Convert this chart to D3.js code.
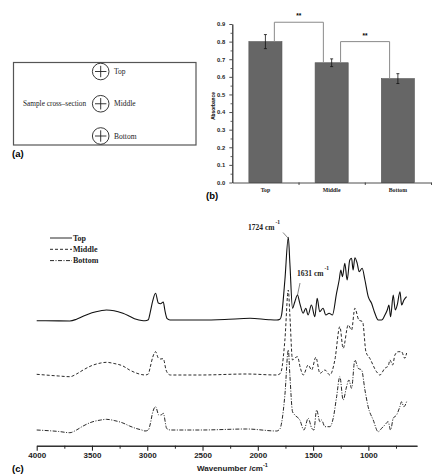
<!DOCTYPE html>
<html>
<head>
<meta charset="utf-8">
<script src="https://cdn.jsdelivr.net/npm/d3@7"></script>
<style>
    body { margin: 0; background: #fff; }
    svg { display: block; }
    .serif { font-family: "Liberation Serif", "DejaVu Serif", serif; }
    .sans { font-family: "Liberation Sans", Arial, sans-serif; }
    .axis path, .axis line { stroke: #222; }
</style>
</head>
<body>
<div id="figure"></div>
<script>

// ---- panel (b) data ----
let categories = ["Top", "Middle", "Bottom"];
let absorbanceMean = [0.80, 0.68, 0.59];
let absorbanceErr = [0.04, 0.022, 0.028];
// significance brackets: [left category, right category, bracket height, label]
let brackets = [["Top", "Middle", 0.91, "**"], ["Middle", "Bottom", 0.80, "**"]];
let barTicks = [0, 0.1, 0.2, 0.3, 0.4, 0.5, 0.6, 0.7, 0.8, 0.9];

// ---- panel (c) data: wavenumber (cm-1) and absorbance (a.u., above each baseline) ----
let topWn = [4000, 3800, 3700, 3640, 3580, 3500, 3420, 3370, 3300, 3220, 3160, 3100, 3050, 3020, 2990, 2975, 2950, 2925, 2900, 2880, 2855, 2840, 2820, 2795, 2520, 2300, 2070, 1900, 1830, 1800, 1785, 1755, 1724, 1710, 1686, 1665, 1641, 1620, 1590, 1566, 1545, 1515, 1484, 1463, 1440, 1410, 1385, 1355, 1325, 1288, 1264, 1249, 1234, 1213, 1192, 1168, 1152, 1138, 1122, 1101, 1083, 1056, 1031, 1001, 971, 941, 911, 880, 850, 829, 814, 799, 775, 757, 739, 714, 699, 678, 654];
let topAbs = [0, -0.002, -0.003, 0.015, 0.045, 0.08, 0.1, 0.107, 0.1, 0.074, 0.045, 0.014, 0.002, 0, 0.01, 0.074, 0.2, 0.274, 0.177, 0.17, 0.187, 0.1, 0.02, 0.007, 0.007, 0.012, 0.024, 0.01, 0.007, 0.015, 0.057, 0.407, 0.834, 0.577, 0.124, 0.19, 0.257, 0.174, 0.074, 0.124, 0.057, 0.157, 0.04, 0.224, 0.09, 0.124, 0.057, 0.074, 0.057, 0.274, 0.407, 0.507, 0.44, 0.574, 0.407, 0.607, 0.624, 0.507, 0.63, 0.574, 0.49, 0.524, 0.407, 0.24, 0.174, 0.074, 0.007, 0.007, 0.057, 0.107, 0.157, 0.04, 0.257, 0.107, 0.157, 0.29, 0.157, 0.207, 0.24];

let middleWn = [4000, 3800, 3700, 3640, 3580, 3500, 3420, 3370, 3300, 3220, 3160, 3100, 3050, 3020, 2990, 2975, 2950, 2925, 2900, 2880, 2855, 2830, 2810, 2790, 2520, 2100, 1830, 1800, 1785, 1755, 1724, 1710, 1686, 1665, 1641, 1615, 1589, 1544, 1513, 1475, 1438, 1393, 1348, 1303, 1258, 1228, 1182, 1152, 1122, 1086, 1052, 1022, 987, 926, 896, 851, 820, 805, 780, 760, 730, 700, 670, 654];
let middleAbs = [0.007, -0.01, -0.017, 0.01, 0.05, 0.095, 0.12, 0.127, 0.115, 0.09, 0.05, 0.02, 0.004, 0, 0.01, 0.07, 0.18, 0.233, 0.17, 0.16, 0.163, 0.05, 0.01, 0, 0, 0.01, 0, 0.012, 0.05, 0.35, 0.85, 0.6, 0.15, 0.17, 0.183, 0.07, 0, 0.1, 0.05, 0.177, 0.017, 0.05, 0, 0.15, 0.483, 0.267, 0.5, 0.45, 0.667, 0.55, 0.533, 0.233, 0.167, 0.033, 0, 0.067, 0.09, 0.15, 0.1, 0.2, 0.233, 0.233, 0.167, 0.22];

let bottomWn = [4000, 3800, 3700, 3640, 3580, 3500, 3420, 3370, 3300, 3220, 3160, 3100, 3050, 3020, 2990, 2975, 2950, 2925, 2895, 2875, 2855, 2825, 2810, 2790, 2520, 2100, 1830, 1800, 1785, 1755, 1724, 1710, 1686, 1665, 1620, 1583, 1544, 1513, 1493, 1468, 1438, 1423, 1393, 1348, 1318, 1287, 1258, 1228, 1197, 1176, 1152, 1122, 1092, 1061, 1031, 1002, 956, 911, 880, 851, 821, 799, 775, 745, 715, 700, 679, 654];
let bottomAbs = [0, -0.015, -0.027, 0.0, 0.04, 0.08, 0.1, 0.107, 0.095, 0.07, 0.04, 0.015, 0.0, -0.01, 0.0, 0.05, 0.18, 0.233, 0.15, 0.15, 0.167, 0.017, 0.005, 0, 0, 0.01, -0.01, 0.01, 0.07, 0.35, 0.8, 0.55, 0.183, 0.15, 0.1, 0, 0.117, 0.02, 0, 0.2, 0.083, 0.1, 0.033, 0.033, 0.117, 0.333, 0.533, 0.3, 0.433, 0.5, 0.417, 0.7, 0.617, 0.6, 0.4, 0.233, 0.1, -0.017, 0.017, 0.05, 0.083, 0, 0.117, 0.15, 0.233, 0.283, 0.233, 0.283];

let seriesNames = ["Top", "Middle", "Bottom"];
let seriesOffsets = [1.25, 0.707, 0.157];
let seriesDash = [null, "3,2", "4,1.5,1,1.5"];
let wnTicks = [4000, 3500, 3000, 2500, 2000, 1500, 1000];
let wnMinorTicks = [3750, 3250, 2750, 2250, 1750, 1250, 750];

// ---- annotation peaks ----
let peakLabels = [
    {wn: 1724, text: "1724 cm", tx: 248, ty: 230, from: [283, 232.5], to: [288, 238]},
    {wn: 1631, text: "1631 cm", tx: 297, ty: 276, from: [300, 283], to: [297.5, 295]}
];


let svg = d3.select("#figure").append("svg")
    .attr("width", 434)
    .attr("height", 474);


// ================= panel (a): sample sketch =================
let panelA = svg.append("g");

panelA.append("rect")
    .attr("x", 13.5).attr("y", 62.5)
    .attr("width", 182.5).attr("height", 82.5)
    .attr("fill", "none")
    .attr("stroke", "#555")
    .attr("stroke-width", 1.2);

let spotY = d3.scalePoint().domain(categories).range([71.5, 136]);

categories.forEach(c => {
    let cy = spotY(c);
    panelA.append("circle")
        .attr("cx", 100.7).attr("cy", cy).attr("r", 8.3)
        .attr("fill", "none").attr("stroke", "#222").attr("stroke-width", 0.9);
    panelA.append("line")
        .attr("x1", 95).attr("x2", 106.4).attr("y1", cy).attr("y2", cy)
        .attr("stroke", "#222").attr("stroke-width", 0.9);
    panelA.append("line")
        .attr("x1", 100.7).attr("x2", 100.7).attr("y1", cy - 5.7).attr("y2", cy + 5.7)
        .attr("stroke", "#222").attr("stroke-width", 0.9);
    panelA.append("text")
        .attr("class", "serif")
        .attr("x", 114).attr("y", cy + 2.6)
        .attr("font-size", 7.5)
        .attr("fill", "#222")
        .text(c);
});

panelA.append("text")
    .attr("class", "serif")
    .attr("x", 23).attr("y", 105.5)
    .attr("font-size", 7.3)
    .attr("fill", "#222")
    .text("Sample cross\u2013section");

panelA.append("text")
    .attr("class", "sans")
    .attr("x", 12).attr("y", 157)
    .attr("font-size", 9.5).attr("font-weight", "bold")
    .text("(a)");


// ================= panel (b): bar chart =================
let panelB = svg.append("g");

let xBar = d3.scaleBand().domain(categories).range([232.3, 431]).paddingInner(0.5).paddingOuter(0.25);
let yBar = d3.scaleLinear().domain([0, 0.9]).range([182.5, 24]);

let barData = categories.map((c, i) => ({cat: c, mean: absorbanceMean[i], err: absorbanceErr[i]}));

panelB.selectAll(".bar")
    .data(barData)
    .enter().append("rect")
    .attr("class", "bar")
    .attr("x", d => xBar(d.cat))
    .attr("y", d => yBar(d.mean))
    .attr("width", xBar.bandwidth())
    .attr("height", d => yBar(0) - yBar(d.mean))
    .attr("fill", "#666")
    .attr("stroke", "#555")
    .attr("stroke-width", 0.6);

// error bars
let errG = panelB.selectAll(".err")
    .data(barData)
    .enter().append("g")
    .attr("class", "err")
    .attr("transform", d => `translate(${xBar(d.cat) + xBar.bandwidth() / 2}, 0)`);

errG.append("line")
    .attr("y1", d => yBar(d.mean - d.err))
    .attr("y2", d => yBar(d.mean + d.err))
    .attr("stroke", "#111").attr("stroke-width", 0.8);
errG.append("line")
    .attr("x1", -1.5).attr("x2", 1.5)
    .attr("y1", d => yBar(d.mean + d.err)).attr("y2", d => yBar(d.mean + d.err))
    .attr("stroke", "#111").attr("stroke-width", 0.8);
errG.append("line")
    .attr("x1", -1.5).attr("x2", 1.5)
    .attr("y1", d => yBar(d.mean - d.err)).attr("y2", d => yBar(d.mean - d.err))
    .attr("stroke", "#111").attr("stroke-width", 0.8);

// significance brackets
brackets.forEach(b => {
    let i0 = categories.indexOf(b[0]), i1 = categories.indexOf(b[1]);
    let x0 = xBar(b[0]) + xBar.bandwidth() * 0.77;
    let x1 = xBar(b[1]) + xBar.bandwidth() * 0.25;
    let yTop = yBar(b[2]);
    panelB.append("path")
        .attr("d", `M${x0},${yBar(absorbanceMean[i0])}V${yTop}H${x1}V${yBar(absorbanceMean[i1])}`)
        .attr("fill", "none")
        .attr("stroke", "#8a8a8a")
        .attr("stroke-width", 1);
    panelB.append("text")
        .attr("class", "sans")
        .attr("x", (x0 + x1) / 2).attr("y", yTop - 4)
        .attr("text-anchor", "middle")
        .attr("font-size", 6.5).attr("font-weight", "bold")
        .text(b[3]);
});

// axes
let yAxisB = panelB.append("g")
    .attr("class", "axis sans")
    .attr("transform", "translate(232.3,0)")
    .call(d3.axisLeft(yBar).tickValues(barTicks).tickFormat(d3.format(".1f")).tickSize(3).tickSizeOuter(0));
yAxisB.selectAll("text").attr("font-size", 5.8).attr("font-weight", "bold").attr("dx", "-0.2em").attr("fill", "#222");
yAxisB.selectAll("line, path").attr("stroke-width", 0.8);

panelB.append("g")
    .attr("class", "axis")
    .attr("transform", "translate(232.3,0)")
    .call(d3.axisLeft(yBar).tickValues(barTicks.slice(0, -1).map(v => v + 0.05)).tickFormat("").tickSize(1.8).tickSizeOuter(0))
    .selectAll("line, path").attr("stroke-width", 0.7);

let bounds = d3.scaleLinear().domain([0, categories.length]).range([232.3, 431]);
panelB.append("g")
    .attr("class", "axis")
    .attr("transform", "translate(0,182.5)")
    .call(d3.axisBottom(bounds).tickValues([1, 2, 3]).tickFormat("").tickSize(2.5).tickSizeOuter(0))
    .selectAll("line, path").attr("stroke-width", 0.8);

let xAxisB = panelB.append("g")
    .attr("class", "serif")
    .attr("transform", "translate(0,182.5)")
    .call(d3.axisBottom(xBar).tickSize(0).tickPadding(5));
xAxisB.select(".domain").remove();
xAxisB.selectAll("text").attr("font-size", 5.8).attr("font-weight", "bold").attr("fill", "#222");

panelB.append("text")
    .attr("class", "sans")
    .attr("transform", "translate(214.5,106) rotate(-90)")
    .attr("text-anchor", "middle")
    .attr("font-size", 4.8).attr("font-weight", "bold")
    .text("Absorbance");

panelB.append("text")
    .attr("class", "sans")
    .attr("x", 206).attr("y", 199)
    .attr("font-size", 9.5).attr("font-weight", "bold")
    .text("(b)");


// ================= panel (c): FTIR spectra =================
let panelC = svg.append("g");

let xWn = d3.scaleLinear().domain([4000, 560]).range([36.7, 417]);
let yAbs = d3.scaleLinear().domain([0, 2.2]).range([445.7, 225.7]);

let spectra = [
    {name: seriesNames[0], wn: topWn, abs: topAbs},
    {name: seriesNames[1], wn: middleWn, abs: middleAbs},
    {name: seriesNames[2], wn: bottomWn, abs: bottomAbs}
];

spectra.forEach((s, i) => {
    let pts = s.wn.map((w, j) => [w, s.abs[j] + seriesOffsets[i]]);
    let line = d3.line()
        .x(d => xWn(d[0]))
        .y(d => yAbs(d[1]))
        .curve(d3.curveMonotoneX);
    panelC.append("path")
        .datum(pts)
        .attr("d", line)
        .attr("fill", "none")
        .attr("stroke", "#111")
        .attr("stroke-width", i === 0 ? 1.1 : 0.9)
        .attr("stroke-dasharray", seriesDash[i]);
});

// legend
let legend = panelC.append("g").attr("transform", "translate(50,238)");
seriesNames.forEach((n, i) => {
    legend.append("line")
        .attr("x1", 0).attr("x2", 22)
        .attr("y1", i * 11.3).attr("y2", i * 11.3)
        .attr("stroke", "#111").attr("stroke-width", 0.9)
        .attr("stroke-dasharray", seriesDash[i]);
    legend.append("text")
        .attr("class", "serif")
        .attr("x", 23).attr("y", i * 11.3 + 2.8)
        .attr("font-size", 8).attr("font-weight", "bold")
        .attr("fill", "#222")
        .text(n);
});

// peak annotations
peakLabels.forEach(p => {
    panelC.append("line")
        .attr("x1", p.from[0]).attr("y1", p.from[1])
        .attr("x2", p.to[0]).attr("y2", p.to[1])
        .attr("stroke", "#333").attr("stroke-width", 0.6);
    let t = panelC.append("text")
        .attr("class", "serif")
        .attr("x", p.tx).attr("y", p.ty)
        .attr("font-size", 7.5).attr("font-weight", "bold")
        .attr("fill", "#222")
        .text(p.text);
    t.append("tspan")
        .attr("dx", 1).attr("dy", -6)
        .attr("font-size", 5.5)
        .text("-1");
});

// x axis
let xAxisC = panelC.append("g")
    .attr("class", "axis sans")
    .attr("transform", "translate(0,445.7)")
    .call(d3.axisBottom(xWn).tickValues(wnTicks).tickFormat(d3.format("d")).tickSize(5).tickSizeOuter(0).tickPadding(2));
xAxisC.selectAll("text").attr("font-size", 8).attr("font-weight", "bold").attr("fill", "#222");
xAxisC.selectAll("line, path").attr("stroke-width", 1.1);

panelC.append("g")
    .attr("class", "axis")
    .attr("transform", "translate(0,445.7)")
    .call(d3.axisBottom(xWn).tickValues(wnMinorTicks).tickFormat("").tickSize(3).tickSizeOuter(0))
    .selectAll("line, path").attr("stroke-width", 1);

let xLabel = panelC.append("text")
    .attr("class", "sans")
    .attr("x", 197).attr("y", 471)
    .attr("font-size", 8).attr("font-weight", "bold")
    .attr("fill", "#222")
    .text("Wavenumber /cm");
xLabel.append("tspan")
    .attr("dy", -4).attr("font-size", 5.5)
    .text("-1");

panelC.append("text")
    .attr("class", "sans")
    .attr("x", 12).attr("y", 472)
    .attr("font-size", 9.5).attr("font-weight", "bold")
    .text("(c)");

</script>
</body>
</html>
